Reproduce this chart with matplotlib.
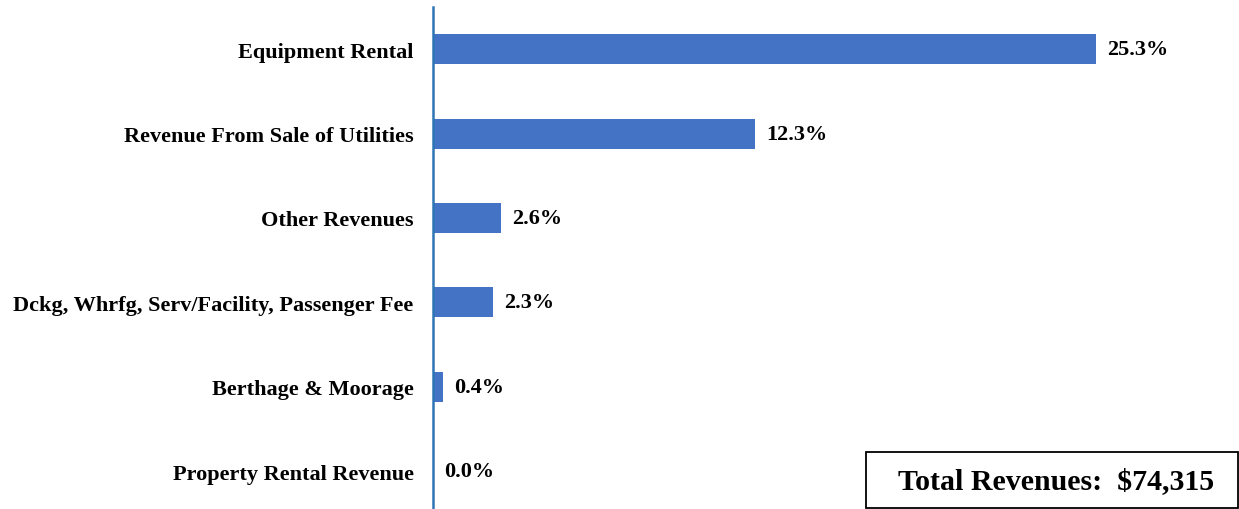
import matplotlib.pyplot as plt
from matplotlib.patches import Rectangle

categories = ["Equipment Rental", "Revenue From Sale of Utilities", "Other Revenues",
              "Dckg, Whrfg, Serv/Facility, Passenger Fee", "Berthage & Moorage",
              "Property Rental Revenue"]
shares = [25.3, 12.3, 2.6, 2.3, 0.4, 0.0]
total_label = "Total Revenues:  $74,315"

plt.rcParams['font.family'] = ['Liberation Serif', 'DejaVu Serif']
plt.rcParams['font.weight'] = 'bold'

fig = plt.figure(figsize=(12.39, 5.10), dpi=100)
ax = fig.add_axes([433 / 1239, 0, 1 - 433 / 1239, 502 / 510])

y = range(len(categories))
ax.barh(y, shares, height=0.355, color='#4472C4')
ax.set_ylim(5.45, -0.5)
ax.set_xlim(0, 30.76)

for yi, v in zip(y, shares):
    ax.annotate("{:.1f}%".format(v), (v, yi), xytext=(8, 0), textcoords='offset points',
                va='center', ha='left', fontsize=16, fontweight='bold')

ax.set_yticks(list(y))
ax.set_yticklabels(categories, fontsize=16, fontweight='bold')
ax.tick_params(axis='y', length=0, pad=14)
ax.set_xticks([])
for s in ['top', 'right', 'bottom']:
    ax.spines[s].set_visible(False)
ax.spines['left'].set_color('#2E75B6')
ax.spines['left'].set_linewidth(1.8)

fig.patches.append(Rectangle((866 / 1239, 1 / 510), 372 / 1239, 56 / 510,
                             transform=fig.transFigure, fill=False,
                             edgecolor='black', linewidth=1.3))
fig.text(1056 / 1239, 1 - 482 / 510, total_label, ha='center', va='center',
         fontsize=21.5, fontweight='bold')

fig.savefig("out.png", dpi=100)
